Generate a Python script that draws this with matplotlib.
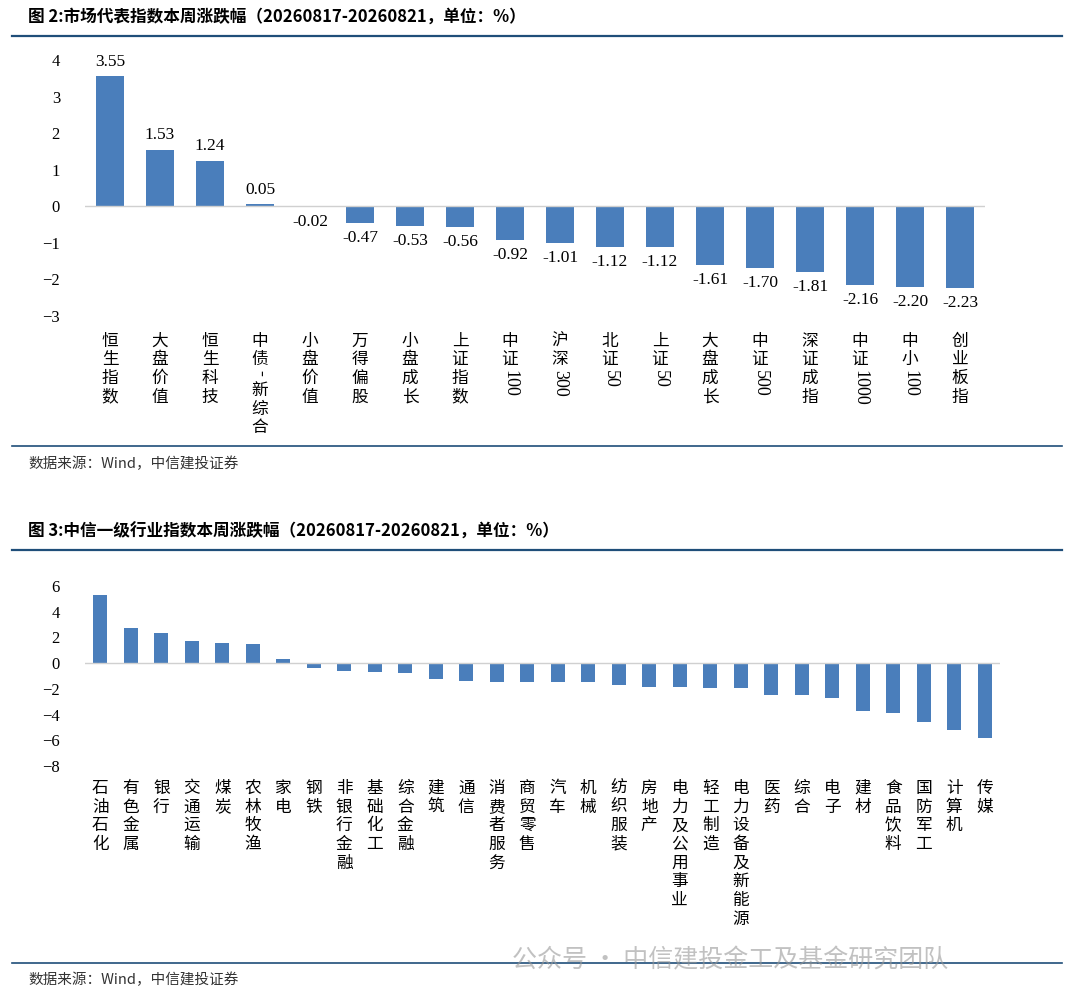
import matplotlib.pyplot as plt

plt.rcParams['font.family'] = ['Noto Sans CJK SC', 'DejaVu Sans']

# chart 1 data
idx_names = ['恒生指数', '大盘价值', '恒生科技', '中债-新综合', '小盘价值', '万得偏股', '小盘成长',
             '上证指数', '中证100', '沪深300', '北证50', '上证50', '大盘成长', '中证500',
             '深证成指', '中证1000', '中小100', '创业板指']
idx_values = [3.55, 1.53, 1.24, 0.05, -0.02, -0.47, -0.53, -0.56, -0.92, -1.01, -1.12, -1.12,
              -1.61, -1.70, -1.81, -2.16, -2.20, -2.23]

# chart 2 data
ind_names = ['石油石化', '有色金属', '银行', '交通运输', '煤炭', '农林牧渔', '家电', '钢铁', '非银行金融',
             '基础化工', '综合金融', '建筑', '通信', '消费者服务', '商贸零售', '汽车', '机械', '纺织服装',
             '房地产', '电力及公用事业', '轻工制造', '电力设备及新能源', '医药', '综合', '电子', '建材',
             '食品饮料', '国防军工', '计算机', '传媒']
ind_values = [5.3, 2.7, 2.35, 1.7, 1.55, 1.5, 0.3, -0.35, -0.6, -0.7, -0.75, -1.2, -1.4, -1.45,
              -1.45, -1.5, -1.5, -1.7, -1.85, -1.85, -1.95, -1.95, -2.5, -2.5, -2.7, -3.7, -3.85,
              -4.6, -5.2, -5.8]

BAR = '#4a7ebb'
NAVY = '#1f4e79'
SERIF = ['Liberation Serif', 'DejaVu Serif']
W, H = 1080, 1002


def fx(px):
    return px / W


def fy(py):
    return 1 - py / H


def vertical_label(ax, x, text, fs=12, start=-14):
    """竖排标签：汉字逐字堆叠，数字/符号旋转"""
    off = start
    runs = []
    for ch in text:
        if ord(ch) > 0x2E80:
            runs.append(('c', ch))
        elif runs and runs[-1][0] == 'a':
            runs[-1] = ('a', runs[-1][1] + ch)
        else:
            runs.append(('a', ch))
    for kind, s in runs:
        if kind == 'c':
            ax.annotate(s, (x, 0), xycoords=('data', 'axes fraction'), xytext=(0, off),
                        textcoords='offset points', ha='center', va='top', fontsize=fs,
                        annotation_clip=False)
            off -= fs * 1.12
        else:
            ax.annotate(s, (x, 0), xycoords=('data', 'axes fraction'), xytext=(0, off),
                        textcoords='offset points', ha='center', va='top', fontsize=fs + 1,
                        rotation=-90, family=SERIF, annotation_clip=False)
            off -= fs * 0.55 * len(s) + 2


def style(ax, n):
    for s in ax.spines.values():
        s.set_visible(False)
    ax.axhline(0, color='#d0d0d0', lw=1)
    ax.set_xlim(-0.5, n - 0.5)
    ax.set_xticks([])
    ax.tick_params(axis='y', length=0, labelsize=12, pad=18)
    for t in ax.get_yticklabels():
        t.set_family(SERIF)


fig = plt.figure(figsize=(W / 100, H / 100), dpi=100)


def frame(title, ytitle, yline, ybot, ysrc):
    fig.text(fx(28), fy(ytitle), title, fontsize=12, fontweight='bold', va='center')
    fig.add_artist(plt.Line2D([fx(12), fx(1062)], [fy(yline), fy(yline)], color=NAVY, lw=1.6))
    fig.add_artist(plt.Line2D([fx(12), fx(1062)], [fy(ybot), fy(ybot)], color=NAVY, lw=1.2))
    fig.text(fx(28), fy(ysrc), '数据来源：Wind，中信建投证券', fontsize=10.5, style='italic',
             color='#333333', va='center')


frame('图 2:市场代表指数本周涨跌幅（20260817-20260821，单位：%）', 17, 36, 446, 464)
frame('图 3:中信一级行业指数本周涨跌幅（20260817-20260821，单位：%）', 532, 550, 963, 980)

# chart 1
ax1 = fig.add_axes([fx(85), fy(316), fx(985) - fx(85), (316 - 60) / H])
x1 = range(len(idx_values))
ax1.bar(x1, idx_values, width=0.55, color=BAR)
ax1.set_ylim(-3, 4)
ax1.set_yticks(range(-3, 5))
style(ax1, len(idx_values))
for i, v in enumerate(idx_values):
    ax1.annotate(f'{v:.2f}', (i, v), xytext=(0, 5 if v >= 0 else -5), textcoords='offset points',
                 ha='center', va='bottom' if v >= 0 else 'top', fontsize=12.5, family=SERIF)
for i, name in enumerate(idx_names):
    vertical_label(ax1, i, name, start=-12)

# chart 2
ax2 = fig.add_axes([fx(85), fy(766), fx(1000) - fx(85), (766 - 586) / H])
x2 = range(len(ind_values))
ax2.bar(x2, ind_values, width=0.45, color=BAR)
ax2.set_ylim(-8, 6)
ax2.set_yticks(range(-8, 7, 2))
style(ax2, len(ind_values))
for i, name in enumerate(ind_names):
    vertical_label(ax2, i, name, start=-10)

fig.text(fx(512), fy(960), '公众号 · 中信建投金工及基金研究团队', fontsize=18, color='#999999',
         alpha=0.6, va='center')

fig.savefig('out.png', dpi=100)
